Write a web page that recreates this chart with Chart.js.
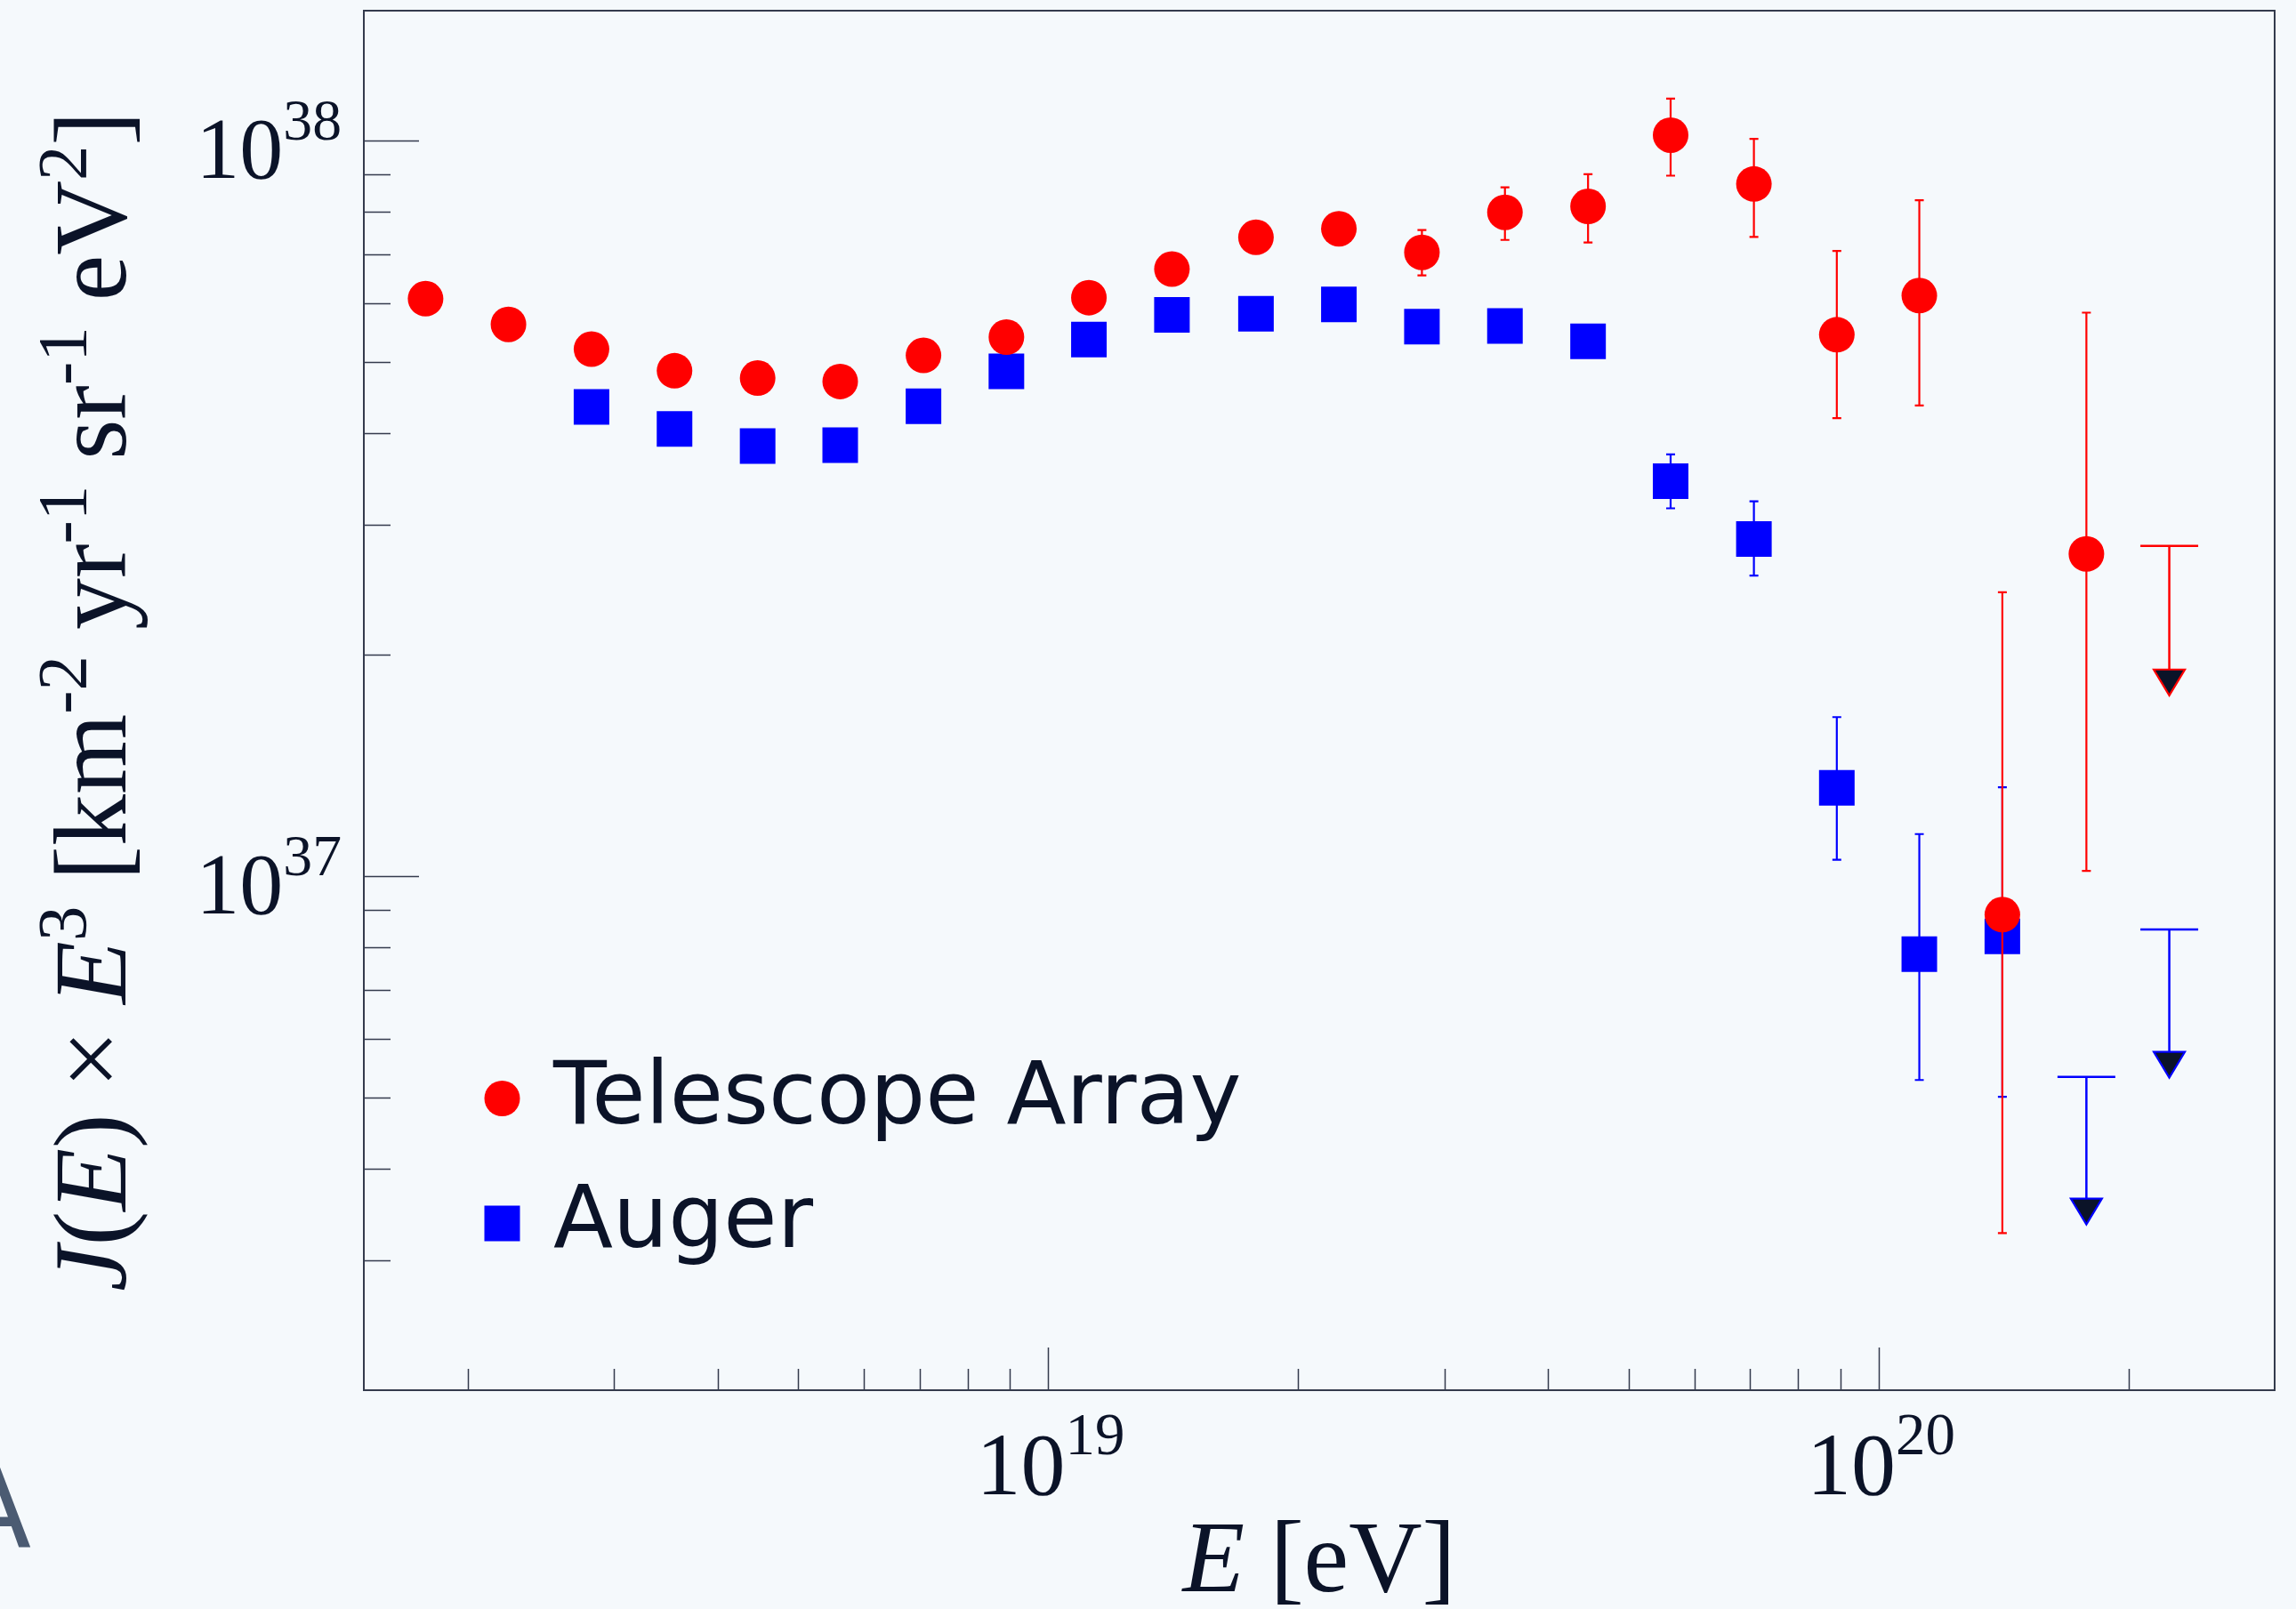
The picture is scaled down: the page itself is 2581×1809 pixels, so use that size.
<!DOCTYPE html>
<html>
<head>
<meta charset="utf-8">
<script src="https://cdn.jsdelivr.net/npm/chart.js@4.4.1/dist/chart.umd.min.js"></script>
<style>
  html, body { margin: 0; padding: 0; background: #f5f9fc; }
  #wrap { width: 2581px; height: 1809px; }
</style>
</head>
<body>
<div id="wrap"><canvas id="c" width="2581" height="1809"></canvas></div>
<script>
// ---------------- DATA ----------------
// Telescope Array: energy [eV], flux J(E)*E^3, upper/lower error ends (null = hidden under marker)
const taEnergy = [1.78e18, 2.24e18, 2.82e18, 3.55e18, 4.47e18, 5.62e18, 7.08e18, 8.91e18,
                  1.12e19, 1.41e19, 1.78e19, 2.24e19, 2.82e19, 3.55e19, 4.47e19, 5.62e19,
                  7.08e19, 8.91e19, 1.12e20, 1.41e20, 1.78e20];
const taFlux   = [6.09e37, 5.62e37, 5.20e37, 4.86e37, 4.75e37, 4.70e37, 5.10e37, 5.40e37,
                  6.11e37, 6.68e37, 7.38e37, 7.58e37, 7.04e37, 7.98e37, 8.13e37, 1.016e38,
                  8.72e37, 5.44e37, 6.15e37, 8.86e36, 2.74e37];
const taErrHigh = [null, null, null, null, null, null, null, null,
                   null, null, null, null, 7.55e37, 8.63e37, 8.99e37, 1.139e38,
                   1.0045e38, 7.07e37, 8.29e37, 2.43e37, 5.83e37];
const taErrLow  = [null, null, null, null, null, null, null, null,
                   null, null, null, null, 6.55e37, 7.32e37, 7.26e37, 8.95e37,
                   7.39e37, 4.19e37, 4.36e37, 3.27e36, 1.016e37];
const taLimitEnergy = [2.24e20];
const taLimitFlux   = [2.81e37];
const taLimitArrowTo = [1.76e37];

// Auger
const augerEnergy = [2.82e18, 3.55e18, 4.47e18, 5.62e18, 7.08e18, 8.91e18,
                     1.12e19, 1.41e19, 1.78e19, 2.24e19, 2.82e19, 3.55e19, 4.47e19, 5.62e19,
                     7.08e19, 8.91e19, 1.12e20, 1.41e20];
const augerFlux   = [4.34e37, 4.05e37, 3.84e37, 3.85e37, 4.35e37, 4.85e37,
                     5.36e37, 5.79e37, 5.81e37, 5.98e37, 5.58e37, 5.59e37, 5.33e37, 3.44e37,
                     2.87e37, 1.318e37, 7.83e36, 8.28e36];
const augerErrHigh = [null, null, null, null, null, null,
                      null, null, null, null, null, null, null, 3.74e37,
                      3.23e37, 1.644e37, 1.14e37, 1.32e37];
const augerErrLow  = [null, null, null, null, null, null,
                      null, null, null, null, null, null, null, 3.16e37,
                      2.56e37, 1.052e37, 5.28e36, 5.01e36];
const augerLimitEnergy = [1.78e20, 2.24e20];
const augerLimitFlux   = [5.33e36, 8.46e36];
const augerLimitArrowTo = [3.36e36, 5.32e36];

// Axis ticks
const xMajorTicks = [1e19, 1e20];
const xMajorExp   = ['19', '20'];
const xMinorTicks = [2e18, 3e18, 4e18, 5e18, 6e18, 7e18, 8e18, 9e18,
                     2e19, 3e19, 4e19, 5e19, 6e19, 7e19, 8e19, 9e19, 2e20];
const yMajorTicks = [1e37, 1e38];
const yMajorExp   = ['37', '38'];
const yMinorTicks = [3e36, 4e36, 5e36, 6e36, 7e36, 8e36, 9e36,
                     2e37, 3e37, 4e37, 5e37, 6e37, 7e37, 8e37, 9e37];

const seriesNames = ['Telescope Array', 'Auger'];

// ---------------- STYLE ----------------
const BG = '#f5f9fc';
const INK = '#0b1328';
const FRAME = '#343b4d';
const RED = '#ff0000';
const BLUE = '#0000ff';
const SERIF = '"Liberation Serif", "Times New Roman", serif';
const SANS = '"DejaVu Sans", sans-serif';

function pts(xs, ys) { return xs.map((x, i) => ({ x: x, y: ys[i] })); }

function drawRich(ctx, segs, x, y, size, supScale, supRaise, align) {
  const fontFor = (s) => (s.italic ? 'italic ' : '') + (s.sup ? size * supScale : size) + 'px ' + SERIF;
  let total = 0;
  const widths = segs.map(s => { ctx.font = fontFor(s); const w = ctx.measureText(s.t).width; total += w; return w; });
  let cx = align === 'center' ? x - total / 2 : (align === 'right' ? x - total : x);
  ctx.textAlign = 'left';
  ctx.textBaseline = 'alphabetic';
  segs.forEach((s, i) => {
    ctx.font = fontFor(s);
    ctx.fillText(s.t, cx, s.sup ? y - supRaise : y);
    cx += widths[i];
  });
}

const errorPlugin = {
  id: 'errs',
  beforeDatasetDraw(chart, args) {
    const ctx = chart.ctx, xs = chart.scales.x, ys = chart.scales.y;
    const i = args.index;
    const col = i === 0 ? RED : BLUE;
    const E = i === 0 ? taEnergy : augerEnergy;
    const hi = i === 0 ? taErrHigh : augerErrHigh;
    const lo = i === 0 ? taErrLow : augerErrLow;
    ctx.save();
    ctx.strokeStyle = col;
    ctx.lineWidth = 2.2;
    for (let k = 0; k < E.length; k++) {
      if (hi[k] == null) continue;
      const px = xs.getPixelForValue(E[k]);
      const pt = ys.getPixelForValue(hi[k]);
      const pb = ys.getPixelForValue(lo[k]);
      ctx.beginPath();
      ctx.moveTo(px, pt); ctx.lineTo(px, pb);
      ctx.moveTo(px - 5, pt); ctx.lineTo(px + 5, pt);
      ctx.moveTo(px - 5, pb); ctx.lineTo(px + 5, pb);
      ctx.stroke();
    }
    // upper limits
    const LE = i === 0 ? taLimitEnergy : augerLimitEnergy;
    const LF = i === 0 ? taLimitFlux : augerLimitFlux;
    const LT = i === 0 ? taLimitArrowTo : augerLimitArrowTo;
    for (let k = 0; k < LE.length; k++) {
      const px = xs.getPixelForValue(LE[k]);
      const pt = ys.getPixelForValue(LF[k]);
      const tip = ys.getPixelForValue(LT[k]);
      ctx.lineWidth = 2.5;
      ctx.beginPath();
      ctx.moveTo(px - 32.5, pt); ctx.lineTo(px + 32.5, pt);
      ctx.moveTo(px, pt); ctx.lineTo(px, tip - 29);
      ctx.stroke();
      ctx.beginPath();
      ctx.moveTo(px - 17.5, tip - 29);
      ctx.lineTo(px + 17.5, tip - 29);
      ctx.lineTo(px, tip);
      ctx.closePath();
      ctx.fillStyle = INK;
      ctx.fill();
      ctx.lineWidth = 2.2;
      ctx.stroke();
    }
    ctx.restore();
  }
};

const framePlugin = {
  id: 'frame',
  beforeDraw(chart) {
    const ctx = chart.ctx;
    ctx.save();
    ctx.fillStyle = BG;
    ctx.fillRect(0, 0, chart.width, chart.height);
    ctx.restore();
  },
  afterDraw(chart) {
    const ctx = chart.ctx, a = chart.chartArea, xs = chart.scales.x, ys = chart.scales.y;
    ctx.save();
    // frame
    ctx.strokeStyle = FRAME;
    ctx.lineWidth = 2;
    ctx.strokeRect(a.left, a.top, a.right - a.left, a.bottom - a.top);
    // x ticks (inward from bottom)
    ctx.lineWidth = 1.5;
    ctx.beginPath();
    xMinorTicks.forEach(v => { const p = Math.round(xs.getPixelForValue(v)) + 0.5; ctx.moveTo(p, a.bottom); ctx.lineTo(p, a.bottom - 24); });
    xMajorTicks.forEach(v => { const p = Math.round(xs.getPixelForValue(v)) + 0.5; ctx.moveTo(p, a.bottom); ctx.lineTo(p, a.bottom - 48); });
    // y ticks (inward from left)
    yMinorTicks.forEach(v => { const p = Math.round(ys.getPixelForValue(v)) + 0.5; ctx.moveTo(a.left, p); ctx.lineTo(a.left + 30, p); });
    yMajorTicks.forEach(v => { const p = Math.round(ys.getPixelForValue(v)) + 0.5; ctx.moveTo(a.left, p); ctx.lineTo(a.left + 62, p); });
    ctx.stroke();

    // tick labels
    ctx.fillStyle = INK;
    xMajorTicks.forEach((v, k) => {
      const p = xs.getPixelForValue(v);
      drawRich(ctx, [{ t: '10' }, { t: xMajorExp[k], sup: true }], p + 3, a.bottom + 117, 100, 0.67, 45, 'center');
    });
    yMajorTicks.forEach((v, k) => {
      const p = ys.getPixelForValue(v);
      drawRich(ctx, [{ t: '10' }, { t: yMajorExp[k], sup: true }], a.left - 25, p + 42, 98, 0.67, 43, 'right');
    });

    // x title
    drawRich(ctx, [{ t: 'E', italic: true }, { t: ' [eV]' }], (a.left + a.right) / 2, 1789, 114, 0.68, 45, 'center');

    // y title (rotated)
    ctx.save();
    ctx.translate(141, (a.top + a.bottom) / 2 + 1);
    ctx.rotate(-Math.PI / 2);
    drawRich(ctx, [
      { t: 'J', italic: true }, { t: '(' }, { t: 'E', italic: true }, { t: ')' },
      { t: ' \u00d7 ' }, { t: 'E', italic: true }, { t: '3', sup: true },
      { t: ' [km' }, { t: '-2', sup: true }, { t: ' yr' }, { t: '-1', sup: true },
      { t: ' sr' }, { t: '-1', sup: true }, { t: ' eV' }, { t: '2', sup: true }, { t: ']' }
    ], 0, 0, 116, 0.68, 45, 'center');
    ctx.restore();

    // legend
    const lx = 564.5;
    ctx.fillStyle = RED;
    ctx.beginPath(); ctx.arc(lx, 1235, 20, 0, Math.PI * 2); ctx.fill();
    ctx.fillStyle = BLUE;
    ctx.fillRect(lx - 20, 1355.5, 40, 40);
    ctx.fillStyle = INK;
    ctx.font = '98px ' + SANS;
    ctx.textAlign = 'left';
    ctx.textBaseline = 'alphabetic';
    ctx.fillText(seriesNames[0], 622, 1263);
    ctx.fillText(seriesNames[1], 622, 1402);

    // panel letter (cut at page edge)
    ctx.fillStyle = '#4b5b72';
    ctx.font = '126px ' + SANS;
    ctx.textAlign = 'center';
    ctx.fillText('A', -8, 1740);
    ctx.restore();
  }
};

const ctx = document.getElementById('c').getContext('2d');
new Chart(ctx, {
  type: 'scatter',
  data: {
    datasets: [
      { label: seriesNames[0], data: pts(taEnergy, taFlux), pointStyle: 'circle', pointRadius: 20,
        pointHoverRadius: 20, backgroundColor: RED, borderColor: RED, borderWidth: 0 },
      { label: seriesNames[1], data: pts(augerEnergy, augerFlux), pointStyle: 'rect', pointRadius: 28.28,
        pointHoverRadius: 28.28, backgroundColor: BLUE, borderColor: BLUE, borderWidth: 0 }
    ]
  },
  options: {
    responsive: false,
    animation: false,
    devicePixelRatio: 1,
    layout: { autoPadding: false, padding: { left: 409, top: 12, right: 24, bottom: 246 } },
    scales: {
      x: { type: 'logarithmic', min: 1.5e18, max: 3e20, display: false },
      y: { type: 'logarithmic', min: 2e36, max: 1.5e38, display: false }
    },
    plugins: { legend: { display: false }, tooltip: { enabled: false } },
    events: []
  },
  plugins: [framePlugin, errorPlugin]
});
</script>
</body>
</html>
